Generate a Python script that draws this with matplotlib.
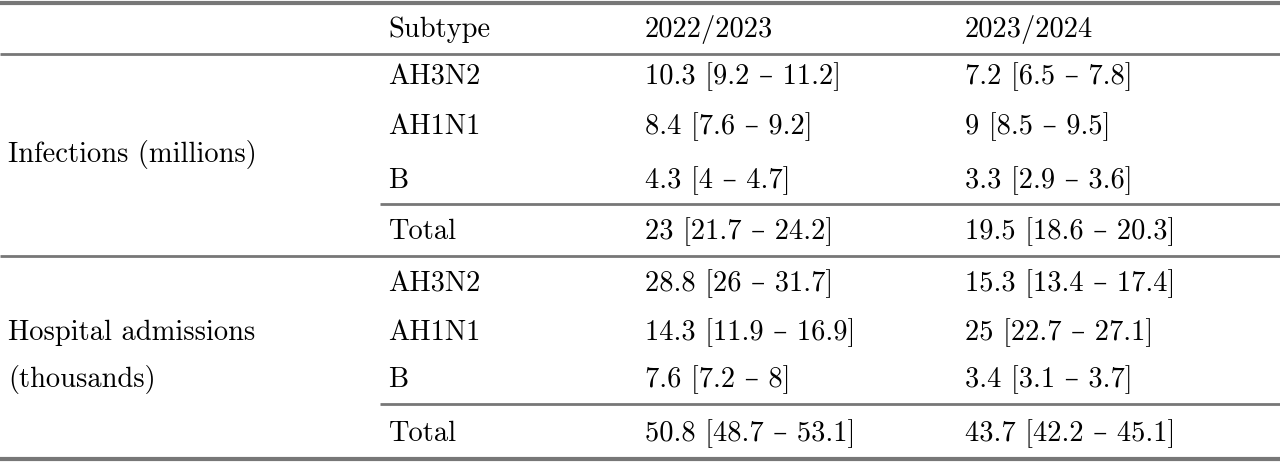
import matplotlib.pyplot as plt

plt.rcParams['font.family'] = ['cmr10', 'DejaVu Serif']
plt.rcParams['axes.formatter.use_mathtext'] = True

header = ["Subtype", "2022/2023", "2023/2024"]
subtypes = ["AH3N2", "AH1N1", "B", "Total"]
inf_2223 = ["10.3 [9.2 – 11.2]", "8.4 [7.6 – 9.2]", "4.3 [4 – 4.7]", "23 [21.7 – 24.2]"]
inf_2324 = ["7.2 [6.5 – 7.8]", "9 [8.5 – 9.5]", "3.3 [2.9 – 3.6]", "19.5 [18.6 – 20.3]"]
hos_2223 = ["28.8 [26 – 31.7]", "14.3 [11.9 – 16.9]", "7.6 [7.2 – 8]", "50.8 [48.7 – 53.1]"]
hos_2324 = ["15.3 [13.4 – 17.4]", "25 [22.7 – 27.1]", "3.4 [3.1 – 3.7]", "43.7 [42.2 – 45.1]"]

W, H = 1280, 464
fig = plt.figure(figsize=(12.8, 4.64), dpi=100)
ax = fig.add_axes([0, 0, 1, 1])
ax.set_xlim(0, W)
ax.set_ylim(H, 0)
ax.axis('off')

fs = 20.5
col_x = [388, 645, 965]
gray = '#777777'

def hline(y, x0=0, x1=W, lw=2.5):
    ax.plot([x0, x1], [y, y], color=gray, lw=lw, solid_capstyle='butt')

hline(4, lw=3)
for x, t in zip(col_x, header):
    ax.text(x, 30, t, fontsize=fs, va='center')
hline(55, lw=2)

blocks = [
    (["Infections (millions)"], [77, 127, 181, 232], inf_2223, inf_2324, 205),
    (["Hospital admissions", "(thousands)"], [284, 333, 380, 434], hos_2223, hos_2324, 405),
]
for label, ys, a, b, sep in blocks:
    for i, s in enumerate(subtypes):
        ax.text(col_x[0], ys[i], s, fontsize=fs, va='center')
        ax.text(col_x[1], ys[i], a[i], fontsize=fs, va='center')
        ax.text(col_x[2], ys[i], b[i], fontsize=fs, va='center')
    hline(sep, x0=380, lw=2)
    if len(label) == 1:
        ax.text(8, 155, label[0], fontsize=fs, va='center')
    else:
        ax.text(8, ys[1], label[0], fontsize=fs, va='center')
        ax.text(8, ys[2], label[1], fontsize=fs, va='center')

hline(257, lw=2)
hline(460, lw=3)

fig.savefig('out.png', dpi=100)
